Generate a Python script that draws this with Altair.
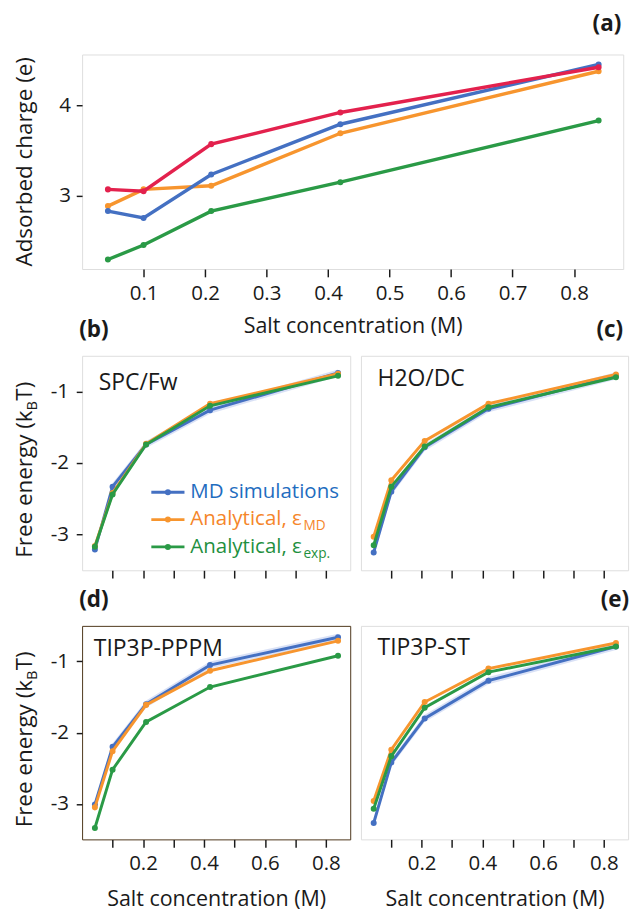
import altair as alt
import pandas as pd

# ---------------- data ----------------
salt = [0.042, 0.1, 0.21, 0.42, 0.84]

# panel (a): adsorbed charge
a_red = [3.07, 3.05, 3.57, 3.92, 4.42]
a_blue = [2.83, 2.755, 3.235, 3.79, 4.45]
a_orange = [2.885, 3.07, 3.11, 3.69, 4.375]
a_green = [2.295, 2.455, 2.83, 3.15, 3.83]

# panels (b)-(e): free energy (kBT)
spc_md = [-3.21, -2.33, -1.74, -1.26, -0.74]
spc_an_md = [-3.16, -2.42, -1.73, -1.17, -0.75]
spc_an_exp = [-3.17, -2.44, -1.74, -1.20, -0.78]

h2o_md = [-3.25, -2.40, -1.78, -1.24, -0.78]
h2o_an_md = [-3.03, -2.24, -1.69, -1.17, -0.76]
h2o_an_exp = [-3.15, -2.33, -1.77, -1.22, -0.80]

pppm_md = [-3.01, -2.20, -1.60, -1.05, -0.66]
pppm_an_md = [-3.05, -2.26, -1.61, -1.13, -0.71]
pppm_an_exp = [-3.34, -2.52, -1.85, -1.36, -0.92]

st_md = [-3.27, -2.42, -1.80, -1.27, -0.79]
st_an_md = [-2.96, -2.24, -1.57, -1.10, -0.74]
st_an_exp = [-3.07, -2.33, -1.65, -1.15, -0.79]

md_err = [0.05, 0.05, 0.05, 0.05, 0.05]

x_ticks = [0.1, 0.2, 0.3, 0.4, 0.5, 0.6, 0.7, 0.8]
legend_labels = ["MD simulations", "Analytical, ε", "Analytical, ε"]
legend_subs = ["", "MD", "exp."]

# ---------------- style ----------------
FONT = "Open Sans"
INK = "#1a1a1a"
RED = "#e3214d"
BLUE = "#4470c2"
ORANGE = "#f7952e"
GREEN = "#2a9a46"
BAND = "#bfcdf0"
TXT_BLUE = "#1f6dbf"
TXT_ORANGE = "#f5862a"
TXT_GREEN = "#1f9040"
X_DOMAIN = [0, 0.88]
A_DOMAIN = [2.19, 4.56]
F_DOMAIN = [-3.5, -0.5]
YT_X = -51      # baseline of rotated y titles, relative to plot left
YT_SIZE = 23


def xaxis(kind):
    common = dict(values=x_ticks, tickSize=8, tickWidth=1.5, tickColor=INK,
                  domain=False, grid=False, labelFont=FONT, labelFontSize=21,
                  labelColor=INK, labelPadding=6, labelFlush=False,
                  labelOverlap=False)
    if kind == "a":
        return alt.Axis(title="Salt concentration (M)", format=".1f",
                        titleY=65, titleBaseline="alphabetic", titleFont=FONT,
                        titleFontSize=22, titleFontWeight="normal",
                        titleColor=INK, **common)
    if kind == "even":
        return alt.Axis(title="Salt concentration (M)",
                        labelExpr="round(datum.value*10) % 2 == 0 ? format(datum.value, '.1f') : ''",
                        titleY=68, titleBaseline="alphabetic", titleFont=FONT,
                        titleFontSize=22, titleFontWeight="normal",
                        titleColor=INK, **common)
    return alt.Axis(title=None, labels=False, **common)


def yaxis(kind):
    if kind == "a":
        return alt.Axis(values=[3, 4], format="d", tickSize=6, tickWidth=1.5,
                        tickColor=INK, domain=False, grid=False,
                        labelFont=FONT, labelFontSize=21, labelColor=INK,
                        labelPadding=6, title=None)
    if kind == "f":
        return alt.Axis(values=[-1, -2, -3],
                        labelExpr="'-' + format(abs(datum.value), 'd')",
                        tickSize=6, tickWidth=1.5, tickColor=INK,
                        domain=False, grid=False, labelFont=FONT,
                        labelFontSize=21, labelColor=INK, labelPadding=8,
                        title=None)
    return None


def enc_x(xax):
    return alt.X("salt:Q", scale=alt.Scale(domain=X_DOMAIN, nice=False, zero=False), axis=xax)


def enc_y(field, ydom, yax):
    return alt.Y(field, scale=alt.Scale(domain=ydom, nice=False, zero=False), axis=yax)


def series(values, color, xax, yax, ydom, sw):
    df = pd.DataFrame({"salt": salt, "value": values})
    return alt.Chart(df).mark_line(
        color=color, strokeWidth=sw,
        point=alt.OverlayMarkDef(filled=True, size=38, color=color, opacity=1),
    ).encode(x=enc_x(xax), y=enc_y("value:Q", ydom, yax))


def band(values, err, xax, yax, ydom):
    df = pd.DataFrame({
        "salt": salt,
        "lo": [v - e for v, e in zip(values, err)],
        "hi": [v + e for v, e in zip(values, err)],
    })
    return alt.Chart(df).mark_area(color=BAND, opacity=0.6).encode(
        x=enc_x(xax), y=enc_y("lo:Q", ydom, yax), y2="hi:Q")


def text(t, x, y, size, color=INK, align="left", weight="normal", angle=0):
    return alt.Chart(pd.DataFrame({"t": [t]})).mark_text(
        align=align, baseline="alphabetic", font=FONT, fontSize=size,
        fontWeight=weight, color=color, angle=angle,
    ).encode(x=alt.value(x), y=alt.value(y), text="t:N")


def free_energy_title(center_y):
    # "Free energy (k" + subscript "B" + "T)", rotated
    p = center_y - 59
    return [
        text("Free energy (k", YT_X, p, YT_SIZE, align="right", angle=270),
        text("B", YT_X + 5, p, 15, align="left", angle=270),
        text("T)", YT_X, p - 10, YT_SIZE, align="left", angle=270),
    ]


def legend_layers():
    out = []
    colors = [BLUE, ORANGE, GREEN]
    tcolors = [TXT_BLUE, TXT_ORANGE, TXT_GREEN]
    for i in range(3):
        ly = 140 + 28 * i
        by = 146 + 28 * i
        d = pd.DataFrame({"k": [i]})
        out.append(alt.Chart(d).mark_rule(color=colors[i], strokeWidth=3).encode(
            x=alt.value(71), x2=alt.value(105), y=alt.value(ly)))
        out.append(alt.Chart(d).mark_point(filled=True, size=38, color=colors[i], opacity=1).encode(
            x=alt.value(88), y=alt.value(ly)))
        out.append(text(legend_labels[i], 111, by, 21, color=tcolors[i]))
        if legend_subs[i]:
            out.append(text(legend_subs[i], 227, by + 5, 14, color=tcolors[i]))
    return out


def fe_panel(md, an_md, an_exp, name, name_x, name_y, xkind, ykind, w, h,
             legend=False, extra=None):
    xax = xaxis(xkind)
    yax = yaxis(ykind)
    layers = [
        band(md, md_err, xax, yax, F_DOMAIN),
        series(md, BLUE, xax, yax, F_DOMAIN, 3),
        series(an_md, ORANGE, xax, yax, F_DOMAIN, 3),
        series(an_exp, GREEN, xax, yax, F_DOMAIN, 3),
        text(name, name_x, name_y, 23.5),
    ]
    if ykind == "f":
        layers += free_energy_title(h / 2 + 5)
    if legend:
        layers += legend_layers()
    if extra:
        layers += extra
    return alt.layer(*layers).properties(width=w, height=h)


# ---------------- panel (a) ----------------
xa = xaxis("a")
ya = yaxis("a")
panel_a = alt.layer(
    series(a_green, GREEN, xa, ya, A_DOMAIN, 3.5),
    series(a_orange, ORANGE, xa, ya, A_DOMAIN, 3.5),
    series(a_blue, BLUE, xa, ya, A_DOMAIN, 3.5),
    series(a_red, RED, xa, ya, A_DOMAIN, 3.5),
    text("Adsorbed charge (e)", YT_X, 110, YT_SIZE, align="center", angle=270),
    text("(a)", 553, -24, 23, align="right", weight="bold"),
    text("(b)", -3, 290, 23, align="left", weight="bold"),
    text("(c)", 555, 290, 23, align="right", weight="bold"),
).properties(width=555, height=220)

panel_b = fe_panel(spc_md, spc_an_md, spc_an_exp, "SPC/Fw", 17, 35,
                   "none", "f", 275, 220, legend=True,
                   extra=[text("(d)", -3, 257.5, 23, align="left", weight="bold")])
panel_c = fe_panel(h2o_md, h2o_an_md, h2o_an_exp, "H2O/DC", 17, 31,
                   "none", "none", 274, 220,
                   extra=[text("(e)", 275, 257.5, 23, align="right", weight="bold")])
panel_d = fe_panel(pppm_md, pppm_an_md, pppm_an_exp, "TIP3P-PPPM", 12, 31,
                   "even", "f", 275, 219).properties(view=alt.ViewBackground(stroke="#4a3318"))
panel_e = fe_panel(st_md, st_an_md, st_an_exp, "TIP3P-ST", 17, 30,
                   "even", "none", 274, 219)

row1 = alt.hconcat(panel_b, panel_c, spacing=9)
row2 = alt.hconcat(panel_d, panel_e, spacing=9)
lower = alt.vconcat(row1, row2, spacing=13)

chart = alt.vconcat(panel_a, lower, spacing=12).properties(
    padding={"left": 6, "top": -7, "right": 2, "bottom": 0}
).configure_view(stroke=INK, strokeWidth=2).configure(font=FONT)

chart.save("out.html", embed_options={"renderer": "svg", "actions": False})
